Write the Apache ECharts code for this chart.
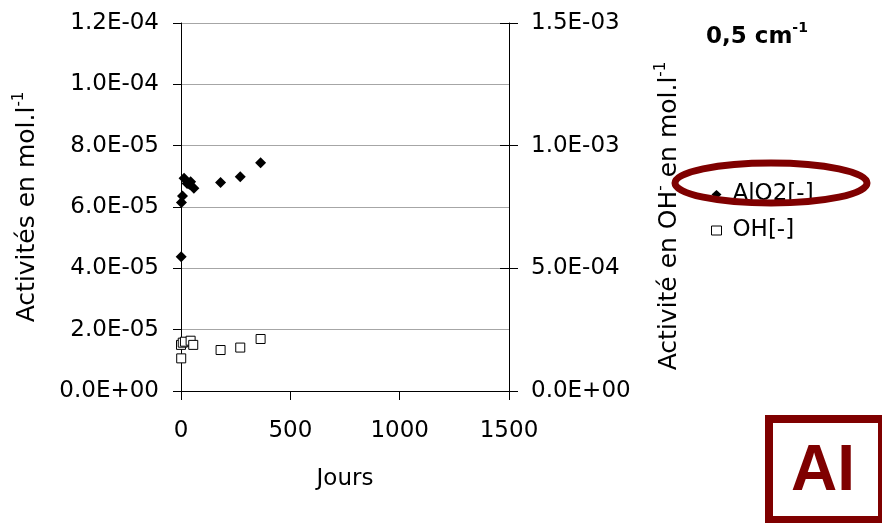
<!DOCTYPE html>
<html>
<head>
<meta charset="utf-8">
<script src="https://cdn.jsdelivr.net/npm/echarts@6/dist/echarts.min.js"></script>
<style>
  html, body { margin: 0; padding: 0; background: #fff; }
  #chart { width: 882px; height: 523px; }
</style>
</head>
<body>
<div id="chart"></div>
<script>
// Days of measurement and activities (mol/l)
const daysAlO2 = [1, 2, 7, 14, 28, 38, 44, 59, 181, 271, 364];
const valuesAlO2 = [4.38e-5, 6.15e-5, 6.36e-5, 6.94e-5, 6.77e-5, 6.74e-5, 6.82e-5, 6.61e-5, 6.80e-5, 6.99e-5, 7.44e-5];

const daysOH = [1, 0, 8, 18, 44, 56, 181, 271, 364];
const valuesOH = [1.33e-4, 1.88e-4, 1.97e-4, 2.01e-4, 2.05e-4, 1.88e-4, 1.67e-4, 1.77e-4, 2.12e-4];

const seriesNames = ['AlO2[-]', 'OH[-]'];
const titleText = '0,5 cm';
const xName = 'Jours';
const leftName = 'Activités en mol.l';
const rightName = ['Activité en OH', ' en mol.l'];

const FONT = 'DejaVu Sans';
const RED = '#7f0000';

function sci(v) {
  if (Math.abs(v) < 1e-15) return '0.0E+00';
  let e = Math.floor(Math.log10(Math.abs(v)) + 1e-9);
  let m = v / Math.pow(10, e);
  if (Math.round(m * 10) / 10 >= 10) { m /= 10; e += 1; }
  const sign = e < 0 ? '-' : '+';
  const ae = Math.abs(e);
  return m.toFixed(1) + 'E' + sign + (ae < 10 ? '0' : '') + ae;
}

function pairs(xs, ys) { return xs.map((x, i) => [x, ys[i]]); }

const supRich = {
  base: { fontFamily: FONT, fontSize: 25, color: '#000', lineHeight: 30 },
  sup: { fontFamily: FONT, fontSize: 15, color: '#000', verticalAlign: 'top', lineHeight: 30 }
};

const chart = echarts.init(document.getElementById('chart'), null, { renderer: 'canvas' });

chart.setOption({
  animation: false,
  backgroundColor: '#fff',
  title: {
    text: '{b|' + titleText + '}{s|-1}',
    left: 701,
    top: 16,
    textStyle: {
      rich: {
        b: { fontFamily: FONT, fontWeight: 'bold', fontSize: 23, color: '#000', lineHeight: 32 },
        s: { fontFamily: FONT, fontWeight: 'bold', fontSize: 14, color: '#000', verticalAlign: 'top', lineHeight: 32 }
      }
    }
  },
  legend: {
    orient: 'vertical',
    left: 706,
    top: 178,
    itemWidth: 10,
    itemHeight: 9,
    itemGap: 13,
    textStyle: { fontFamily: FONT, fontSize: 23, color: '#000', padding: [0, 0, 0, 6] },
    data: [
      { name: seriesNames[0], icon: 'diamond', itemStyle: { color: '#000' } },
      { name: seriesNames[1], icon: 'rect', itemStyle: { color: '#fff', borderColor: '#000', borderWidth: 1 } }
    ]
  },
  grid: { left: 181, right: 373, top: 23, bottom: 132 },
  xAxis: {
    type: 'value',
    min: 0, max: 1500, interval: 500,
    name: xName,
    nameLocation: 'middle',
    nameGap: 77,
    nameTextStyle: { fontFamily: FONT, fontSize: 23, color: '#000' },
    axisLine: { show: true, onZero: false, lineStyle: { color: '#000', width: 1 } },
    axisTick: { show: true, length: 9, lineStyle: { color: '#000' } },
    axisLabel: { fontFamily: FONT, fontSize: 23, color: '#000', margin: 29, formatter: v => String(v) },
    splitLine: { show: false }
  },
  yAxis: [
    {
      type: 'value',
      position: 'left',
      min: 0, max: 1.2e-4, interval: 2e-5,
      name: '{base|' + leftName + '}{sup|-1}',
      nameLocation: 'middle',
      nameRotate: 90,
      nameGap: 139,
      nameTextStyle: { rich: supRich },
      axisLine: { show: true, lineStyle: { color: '#000', width: 1 } },
      axisTick: { show: true, length: 8, lineStyle: { color: '#000' } },
      axisLabel: { fontFamily: FONT, fontSize: 23, color: '#000', margin: 22, formatter: sci },
      splitLine: { show: true, lineStyle: { color: '#a6a6a6', width: 1 } }
    },
    {
      type: 'value',
      position: 'right',
      min: 0, max: 1.5e-3, interval: 5e-4,
      name: '{base|' + rightName[0] + '}{sup|-}{base|' + rightName[1] + '}{sup|-1}',
      nameLocation: 'middle',
      nameRotate: 90,
      nameGap: 145,
      nameTextStyle: { rich: supRich, padding: [0, 18, 0, 0] },
      axisLine: { show: true, lineStyle: { color: '#000', width: 1 } },
      axisTick: { show: true, length: 9, lineStyle: { color: '#000' } },
      axisLabel: { fontFamily: FONT, fontSize: 23, color: '#000', margin: 22, formatter: sci },
      splitLine: { show: false }
    },
    {
      // inner half of the right-hand cross ticks
      type: 'value',
      position: 'right',
      min: 0, max: 1.5e-3, interval: 5e-4,
      axisLine: { show: false },
      axisTick: { show: true, inside: true, length: 9, lineStyle: { color: '#000' } },
      axisLabel: { show: false },
      splitLine: { show: false }
    }
  ],
  series: [
    {
      name: seriesNames[0],
      type: 'scatter',
      yAxisIndex: 0,
      symbol: 'diamond',
      symbolSize: 11,
      itemStyle: { color: '#000', opacity: 1 },
      data: pairs(daysAlO2, valuesAlO2),
      z: 3
    },
    {
      name: seriesNames[1],
      type: 'scatter',
      yAxisIndex: 1,
      symbol: 'rect',
      symbolSize: 9,
      itemStyle: { color: '#fff', borderColor: '#000', borderWidth: 1, opacity: 1 },
      data: pairs(daysOH, valuesOH),
      z: 3
    }
  ],
  graphic: [
    {
      type: 'ellipse',
      shape: { cx: 771, cy: 183, rx: 96, ry: 20 },
      style: { fill: 'none', stroke: RED, lineWidth: 7 },
      z: 100
    },
    {
      type: 'rect',
      shape: { x: 769, y: 419, width: 113, height: 101 },
      style: { fill: '#fff', stroke: RED, lineWidth: 8 },
      z: 100
    },
    {
      type: 'text',
      x: 823,
      y: 472,
      style: {
        text: 'AI',
        fontFamily: 'Liberation Sans',
        fontWeight: 'bold',
        fontSize: 64,
        fill: RED,
        align: 'center',
        verticalAlign: 'middle'
      },
      z: 101
    }
  ]
});
</script>
</body>
</html>
